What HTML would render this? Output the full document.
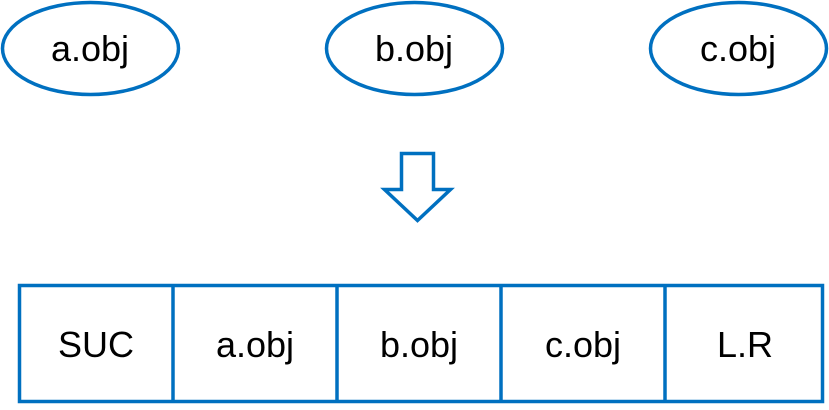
<!DOCTYPE html>
<html><head><style>body{margin:0;background:#fff}</style></head><body>
<svg width="829" height="405" xmlns="http://www.w3.org/2000/svg" font-family="Liberation Sans, sans-serif" font-size="36" fill="#000">
<g fill="#fff" stroke="#0070C0" stroke-width="3.5">
<ellipse cx="90.5" cy="48.5" rx="88" ry="46"/>
<ellipse cx="414.5" cy="48.5" rx="88" ry="46"/>
<ellipse cx="738.5" cy="48.5" rx="88" ry="46"/>
<polygon points="401.5,153.5 433.5,153.5 433.5,189.5 450.5,189.5 417.5,220.5 384.5,189.5 401.5,189.5"/>
<rect x="19.5" y="285.5" width="803" height="116"/>
<line x1="173" y1="285" x2="173" y2="402"/>
<line x1="337" y1="285" x2="337" y2="402"/>
<line x1="501" y1="285" x2="501" y2="402"/>
<line x1="665" y1="285" x2="665" y2="402"/>
</g>
<g text-anchor="middle">
<text x="90" y="61">a.obj</text>
<text x="414" y="61">b.obj</text>
<text x="738" y="61">c.obj</text>
<text x="96" y="357">SUC</text>
<text x="255" y="357">a.obj</text>
<text x="419" y="357">b.obj</text>
<text x="583" y="357">c.obj</text>
<text x="745" y="357">L.R</text>
</g>
</svg>
</body></html>
